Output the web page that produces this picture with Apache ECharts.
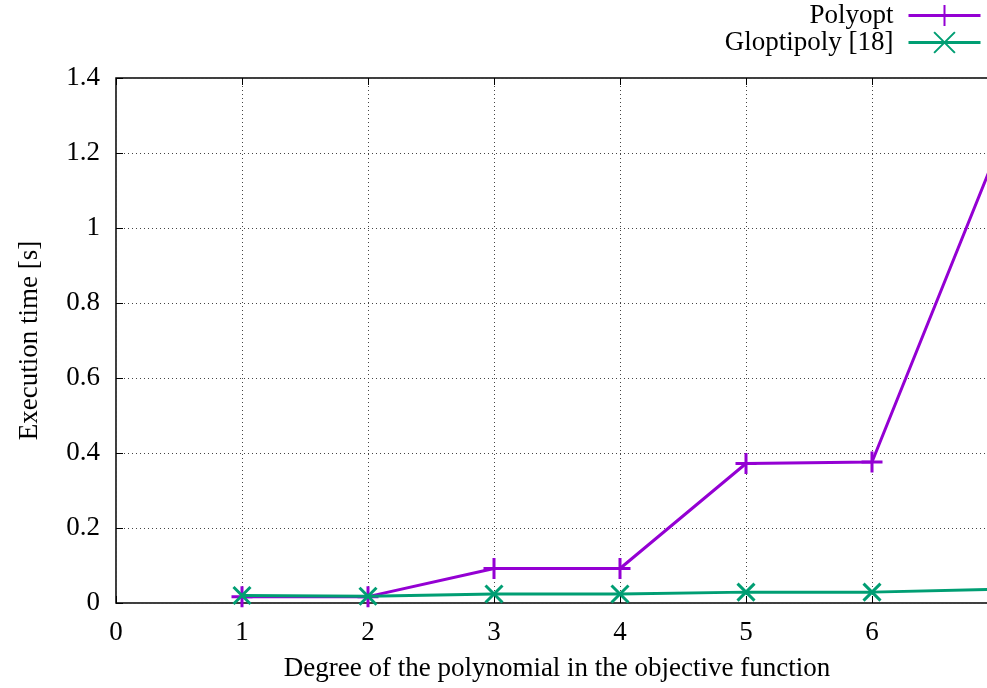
<!DOCTYPE html>
<html>
<head>
<meta charset="utf-8">
<script src="https://cdn.jsdelivr.net/npm/echarts@6/dist/echarts.min.js"></script>
<style>
  html, body { margin: 0; padding: 0; background: #fff; }
  #chart { width: 987px; height: 688px; }
</style>
</head>
<body>
<div id="chart"></div>
<script>
// Polynomial degree vs execution time for the two solvers
const degrees = [1, 2, 3, 4, 5, 6, 7];
const polyoptTimes = [0.017, 0.017, 0.092, 0.092, 0.372, 0.376, 1.21];
const gloptipolyTimes = [0.020, 0.018, 0.024, 0.024, 0.029, 0.029, 0.037];
const seriesNames = ['Polyopt', 'Gloptipoly [18]'];
const xTitle = 'Degree of the polynomial in the objective function';
const yTitle = 'Execution time [s]';

const FONT = 'Liberation Serif';
const FS = 27;
const PURPLE = '#9400D3';
const GREEN = '#009E73';
const PLUS = 'path://M0,-10L0,10M-10,0L10,0';
const CROSS = 'path://M-10,-10L10,10M-10,10L10,-10';

const pairs = vals => degrees.map((d, i) => [d, vals[i]]);

const gridLine = { show: true, lineStyle: { color: '#444', width: 1, type: [1, 3] } };
const tick = { show: true, inside: true, length: 7, lineStyle: { color: '#000', width: 1 } };
const txt = { fontFamily: FONT, fontSize: FS, color: '#000' };

const chart = echarts.init(document.getElementById('chart'), null, { renderer: 'canvas' });
chart.setOption({
  animation: false,
  backgroundColor: '#fff',
  textStyle: { fontFamily: FONT, color: '#000' },
  grid: {
    left: 116, top: 78, right: -11, bottom: 85,
    outerBoundsMode: 'none', containLabel: false,
    show: true, borderColor: '#000', borderWidth: 1.5, backgroundColor: 'transparent'
  },
  legend: {
    orient: 'vertical',
    right: 5, top: 2, padding: 0,
    align: 'right',
    itemWidth: 72, itemHeight: 26, itemGap: 0,
    lineStyle: { width: 3 },
    textStyle: Object.assign({ padding: [0, 10, 0, 0] }, txt),
    data: seriesNames
  },
  xAxis: [{
    type: 'value', min: 0, max: 7, interval: 1,
    name: xTitle, nameLocation: 'middle', nameGap: 52,
    nameTextStyle: txt,
    axisLine: { show: false },
    axisTick: tick,
    axisLabel: Object.assign({ margin: 16, formatter: v => (v === 7 ? '' : String(v)) }, txt),
    splitLine: gridLine
  }, {
    type: 'value', position: 'top', min: 0, max: 7, interval: 1,
    axisLine: { show: false },
    axisTick: tick,
    axisLabel: { show: false },
    splitLine: { show: false }
  }],
  yAxis: {
    type: 'value', min: 0, max: 1.4, interval: 0.2,
    name: yTitle, nameLocation: 'middle', nameGap: 73, nameRotate: 90,
    nameTextStyle: txt,
    axisLine: { show: false },
    axisTick: tick,
    axisLabel: Object.assign({ margin: 16, formatter: v => String(+v.toFixed(1)) }, txt),
    splitLine: gridLine
  },
  series: [{
    name: seriesNames[0], type: 'line', data: pairs(polyoptTimes),
    symbol: PLUS, symbolSize: 21, showAllSymbol: true,
    lineStyle: { color: PURPLE, width: 3 },
    itemStyle: { color: PURPLE, borderColor: PURPLE, borderWidth: 3 },
    z: 3
  }, {
    name: seriesNames[1], type: 'line', data: pairs(gloptipolyTimes),
    symbol: CROSS, symbolSize: 17, showAllSymbol: true,
    lineStyle: { color: GREEN, width: 3 },
    itemStyle: { color: GREEN, borderColor: GREEN, borderWidth: 3 },
    z: 4
  }]
});
</script>
</body>
</html>
